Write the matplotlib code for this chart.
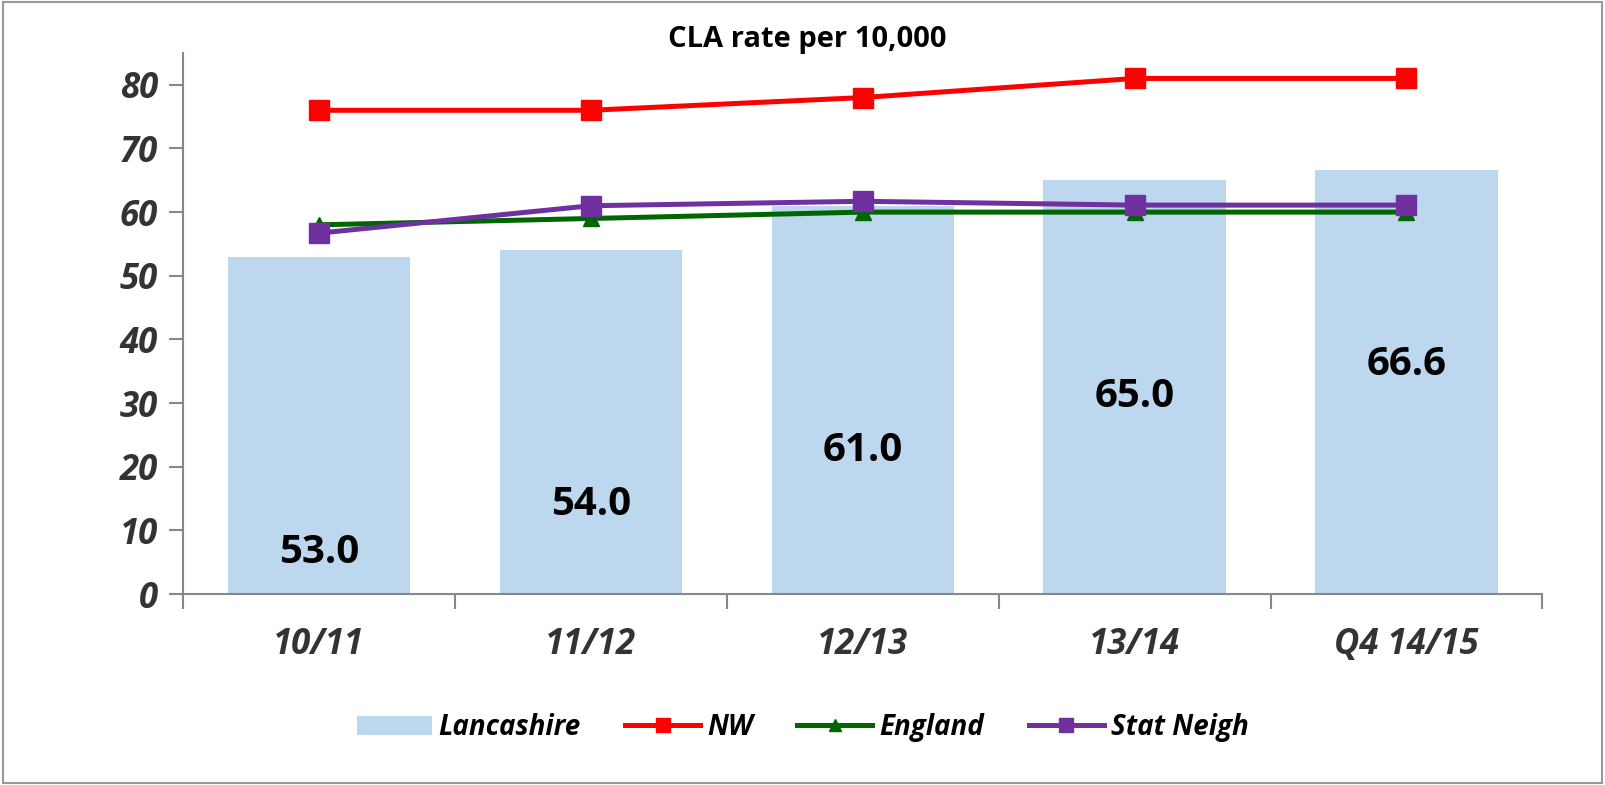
import matplotlib
matplotlib.use('Agg')

import numpy as np
import matplotlib.pyplot as plt
from matplotlib.patches import Rectangle

plt.rcParams['font.family'] = ['Open Sans', 'DejaVu Sans']

categories = ['10/11', '11/12', '12/13', '13/14', 'Q4 14/15']
lancashire = [53.0, 54.0, 61.0, 65.0, 66.6]
nw = [76, 76, 78, 81, 81]
england = [58, 59, 60, 60, 60]
stat_neigh = [56.7, 61.0, 61.7, 61.1, 61.1]
# heights where the bar value labels sit
label_y = [6.5, 14.0, 22.6, 31.0, 36.0]

fig = plt.figure(figsize=(16.05, 7.85), dpi=100)
ax = fig.add_axes([0.114, 0.2433, 0.847, 0.6892])

x = np.arange(len(categories))
b = ax.bar(x, lancashire, width=0.67, color='#BDD7EE', label='Lancashire', zorder=1)
l1, = ax.plot(x, nw, color='#FF0000', lw=3.6, marker='s', ms=14, label='NW', zorder=3)
l2, = ax.plot(x, england, color='#006600', lw=3.6, marker='^', ms=12, label='England', zorder=3)
l3, = ax.plot(x, stat_neigh, color='#7030A0', lw=3.6, marker='s', ms=14, label='Stat Neigh', zorder=4)

for xi, v, ly in zip(x, lancashire, label_y):
    ax.text(xi, ly, '%.1f' % v, ha='center', va='center', fontsize=29,
            fontweight='bold', color='black', zorder=5)

ax.set_xlim(-0.5, len(categories) - 0.5)
ax.set_ylim(0, 85)
ax.set_yticks(range(0, 81, 10))
ax.set_xticks(x)
ax.set_xticklabels(categories)
ax.set_xticks(np.arange(-0.5, len(categories), 1.0), minor=True)

for lab in ax.get_yticklabels() + ax.get_xticklabels():
    lab.set_fontsize(25)
    lab.set_fontweight('bold')
    lab.set_fontstyle('italic')
    lab.set_color('#333333')

ax.tick_params(axis='y', length=10, width=1.5, color='#888888', pad=8)
ax.tick_params(axis='x', which='major', length=0, pad=24)
ax.tick_params(axis='x', which='minor', length=11, width=1.5, color='#888888')

for s in ['top', 'right']:
    ax.spines[s].set_visible(False)
for s in ['left', 'bottom']:
    ax.spines[s].set_color('#888888')
    ax.spines[s].set_linewidth(1.5)

fig.text(0.503, 0.95, 'CLA rate per 10,000', ha='center', va='center',
         fontsize=21, fontweight='bold')

leg = fig.legend([b, l1, l2, l3], ['Lancashire', 'NW', 'England', 'Stat Neigh'],
                 loc='center', bbox_to_anchor=(0.5, 0.073), ncol=4, frameon=False,
                 prop={'size': 20, 'weight': 'bold', 'style': 'italic'},
                 handlelength=2.7, columnspacing=1.6, handletextpad=0.25,
                 markerscale=0.75)

fig.patches.append(Rectangle((0.002, 0.002), 0.996, 0.996, transform=fig.transFigure,
                             fill=False, edgecolor='#999999', lw=1.5))

fig.savefig('out.png', dpi=100)
